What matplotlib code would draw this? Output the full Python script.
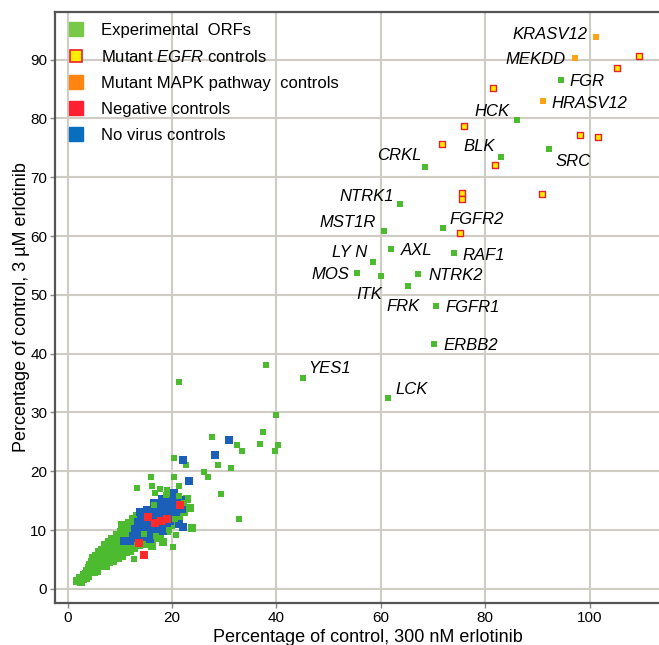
import matplotlib
matplotlib.use('Agg')
import matplotlib.pyplot as plt
from matplotlib.lines import Line2D
import numpy as np

plt.rcParams['font.family'] = ['Liberation Sans', 'DejaVu Sans']
plt.rcParams['mathtext.fontset'] = 'custom'
plt.rcParams['mathtext.rm'] = 'Liberation Sans'
plt.rcParams['mathtext.it'] = 'Liberation Sans:italic'

# %% Daten
# dichte Wolke der experimentellen ORFs
cloud_x = [1.8, 2.4, 2.6, 3.0, 3.2, 3.5, 3.8, 4.0, 4.2, 4.4, 4.6, 4.8, 4.9,
           5.1, 5.3, 5.5, 5.7, 5.9, 6.0, 6.2, 6.4, 6.6, 6.8, 7.0, 7.1,
           7.3, 7.5, 7.7, 7.9, 8.0, 8.2, 8.4, 8.6, 8.8, 9.0, 9.2, 9.4,
           9.6, 9.8, 10.0, 10.2, 10.4, 10.6, 10.8, 11.0, 11.2, 11.4, 11.6, 11.8,
           12.0, 12.2, 12.4, 12.6, 12.8, 13.0, 13.2, 13.4, 13.6, 13.8, 14.0, 14.2,
           14.5, 14.7, 14.9, 15.1, 15.3, 15.5, 15.7, 15.9, 16.1, 16.3, 16.5, 16.7, 16.9, 17.1, 17.3, 17.5,
           17.7, 17.9, 18.1, 18.3, 18.5, 18.7, 18.9, 19.1, 19.3, 19.5, 19.7, 19.9, 20.1, 20.4, 20.7, 21.0,
           21.4, 21.8, 22.3, 22.8, 23.5, 23.8,
           3.6, 5.0, 6.1, 6.9, 7.6, 8.3, 9.1, 9.9, 10.5, 11.3, 12.1, 12.9, 13.7, 14.4, 15.2, 16.2, 17.4,
           4.3, 5.6, 6.5, 7.4, 8.1, 8.9, 9.5, 10.3, 11.1, 11.9, 12.7]
cloud_y = [1.4, 1.8, 1.2, 1.6, 2.4, 1.9, 3.0, 2.2, 3.6, 2.9, 4.6, 3.4, 5.2,
           2.8, 4.1, 5.6, 3.5, 4.8, 6.2, 3.9, 5.3, 6.6, 4.4, 5.8, 7.4,
           3.9, 5.0, 6.4, 7.9, 4.6, 5.6, 7.0, 8.4, 4.7, 6.0, 7.5, 9.2,
           5.3, 6.6, 8.1, 9.6, 5.6, 7.1, 8.7, 10.4, 6.2, 7.6, 9.2, 11.2,
           6.5, 8.0, 9.8, 11.8, 7.0, 8.6, 10.4, 12.4, 7.4, 9.2, 11.0, 13.0,
           12.5, 7.6, 9.0, 11.0, 13.0, 8.4, 10.0, 12.0, 7.3, 9.2, 11.2, 13.6, 8.6, 10.4, 12.4, 14.2,
           9.4, 11.6, 13.2, 8.0, 10.6, 12.8, 14.8, 9.9, 11.8, 13.8, 15.6, 10.8, 12.6, 14.4, 11.4, 13.4,
           12.2, 14.2, 13.0, 15.3, 13.8, 10.3,
           2.6, 4.4, 5.0, 6.2, 7.2, 6.3, 8.3, 7.4, 10.8, 9.9, 10.9, 11.6, 10.2, 10.4, 11.8, 12.8, 12.0,
           4.0, 3.1, 4.6, 4.6, 7.6, 5.4, 7.0, 8.8, 9.0, 7.1, 9.4]

# ORFs, die zwischen den Kontrollen liegen
mix_x = [14.6, 17.0, 19.5, 20.6, 21.3, 16.6, 18.9, 22.4]
mix_y = [9.4, 9.0, 10.0, 11.9, 15.8, 14.2, 15.9, 14.6]

# einzelne experimentelle ORFs ohne Beschriftung
orf_x = [38.0, 21.4, 40.0, 37.5, 40.4, 36.9, 39.8, 27.6, 32.5, 33.5, 28.9, 31.3, 26.2, 26.9, 29.3, 32.9,
         20.4, 22.6, 20.4, 15.9, 13.3, 16.1, 17.7, 19.0, 16.8, 21.4, 23.0, 23.7, 20.8, 20.2, 12.7]
orf_y = [38.1, 35.2, 29.6, 26.6, 24.5, 24.7, 23.5, 25.8, 24.4, 23.5, 21.1, 20.5, 19.9, 19.1, 16.2, 11.9,
         22.2, 21.1, 19.0, 19.0, 17.2, 17.5, 17.0, 16.8, 16.3, 17.5, 15.2, 13.7, 9.1, 7.2, 5.0]

# beschriftete ORFs
gene_names = ['FGR', 'HCK', 'BLK', 'SRC', 'CRKL', 'NTRK1', 'MST1R', 'FGFR2', 'AXL', 'RAF1', 'LY N',
              'MOS', 'ITK', 'NTRK2', 'FRK', 'FGFR1', 'ERBB2', 'YES1', 'LCK']
gene_x = [94.5, 86.0, 83.0, 92.3, 68.5, 63.6, 60.6, 71.9, 62.0, 74.0, 58.5,
          55.5, 60.0, 67.2, 65.2, 70.5, 70.1, 45.1, 61.3]
gene_y = [86.5, 79.8, 73.5, 74.8, 71.7, 65.4, 60.8, 61.3, 57.8, 57.1, 55.6,
          53.8, 53.2, 53.5, 51.5, 48.1, 41.6, 35.9, 32.5]

# Mutant EGFR
egfr_x = [109.5, 105.3, 81.4, 75.9, 98.1, 101.5, 71.7, 81.8, 75.6, 75.6, 90.8, 75.2]
egfr_y = [90.6, 88.6, 85.2, 78.7, 77.2, 76.9, 75.6, 72.0, 67.3, 66.3, 67.1, 60.5]

# Mutant MAPK
mapk_names = ['KRASV12', 'MEKDD', 'HRASV12']
mapk_x = [101.2, 97.2, 91.0]
mapk_y = [93.9, 90.3, 83.0]

# Negativkontrollen
neg_x = [21.6, 19.1, 15.4, 13.6, 14.7, 16.8, 17.9]
neg_y = [14.3, 11.9, 12.3, 7.8, 5.8, 11.2, 11.6]

# ohne Virus
novir_x = [12.6, 13.0, 13.3, 13.5, 13.8, 14.0, 14.2, 14.5, 14.7, 15.0, 15.2, 15.4, 15.6, 15.8, 16.0, 16.2,
           16.4, 16.6, 16.8, 17.0, 17.2, 17.4, 17.6, 17.8, 18.0, 18.2, 18.4, 18.6, 18.8, 19.0, 19.2, 19.4,
           19.6, 19.8, 20.0, 20.2, 20.5, 20.8, 21.1, 21.4, 21.7, 22.0, 20.3, 18.0, 16.5, 14.8, 15.8, 13.8,
           30.9, 28.3, 22.2, 23.2, 22.2, 10.9, 14.3, 16.9, 12.0]
novir_y = [9.0, 10.2, 8.6, 11.4, 9.6, 12.2, 10.4, 8.9, 11.6, 9.8, 13.4, 10.8, 12.0, 9.2, 11.2, 13.0,
           10.2, 12.4, 9.6, 11.8, 13.8, 10.6, 12.6, 14.6, 11.2, 9.8, 13.2, 12.0, 14.0, 10.4, 12.8, 15.0,
           11.6, 13.6, 14.8, 12.2, 15.6, 13.0, 14.2, 11.0, 15.2, 13.6, 16.3, 15.3, 14.6, 12.9, 8.4, 13.0,
           25.3, 22.7, 21.9, 18.4, 10.5, 8.1, 13.0, 14.1, 8.2]

# Beschriftungs-Versatz in Pixeln (dx, dy, ha)
gene_off = {'FGR': (9, 0, 'left'), 'HCK': (-7, 10, 'right'), 'BLK': (-6, 12, 'right'),
            'SRC': (6, -11, 'left'), 'CRKL': (-4, 13, 'right'), 'NTRK1': (-6, 9, 'right'),
            'MST1R': (-8, 10, 'right'), 'FGFR2': (7, 10, 'left'), 'AXL': (10, 0, 'left'),
            'RAF1': (9, -1, 'left'), 'LY N': (-6, 11, 'right'), 'MOS': (-8, 0, 'right'),
            'ITK': (1, -17, 'right'), 'NTRK2': (10, 0, 'left'), 'FRK': (12, -19, 'right'),
            'FGFR1': (10, 0, 'left'), 'ERBB2': (10, 0, 'left'), 'YES1': (5, 11, 'left'),
            'LCK': (8, 10, 'left')}
mapk_off = {'KRASV12': (-8, 4, 'right'), 'MEKDD': (-9, 0, 'right'), 'HRASV12': (9, -1, 'left')}

# %% Farben
c_green = '#4cbb30'
c_orange = '#ffa214'
c_red = '#ff2a2a'
c_blue = '#1c5fb8'

# %% Plot
fig = plt.figure(figsize=(6.59, 6.45), dpi=100)
ax = fig.add_axes([55/659, 42/645, 625/659, 591/645])

ms = 27
ax.scatter(cloud_x, cloud_y, s=ms, marker='s', color=c_green, lw=0, zorder=3)
ax.scatter(orf_x, orf_y, s=24, marker='s', color=c_green, lw=0, zorder=3)
ax.scatter(novir_x, novir_y, s=ms, marker='s', color=c_blue, lw=0, zorder=4)
ax.scatter(mix_x, mix_y, s=24, marker='s', color=c_green, lw=0, zorder=4.5)
ax.scatter(neg_x, neg_y, s=ms, marker='s', color=c_red, lw=0, zorder=5)
ax.scatter(gene_x, gene_y, s=22, marker='s', color=c_green, lw=0, zorder=3)
ax.scatter(mapk_x, mapk_y, s=22, marker='s', color=c_orange, lw=0, zorder=5)
ax.scatter(egfr_x, egfr_y, s=20, marker='s', facecolor='#ffee00', edgecolor='#e8202a', lw=1.0, zorder=5)

for name, x, y in zip(gene_names, gene_x, gene_y):
    dx, dy, ha = gene_off[name]
    ax.annotate(name, (x, y), xytext=(dx, dy), textcoords='offset pixels', ha=ha, va='center_baseline',
                fontsize=12, style='italic', zorder=6)
for name, x, y in zip(mapk_names, mapk_x, mapk_y):
    dx, dy, ha = mapk_off[name]
    ax.annotate(name, (x, y), xytext=(dx, dy), textcoords='offset pixels', ha=ha, va='center_baseline',
                fontsize=12, style='italic', zorder=6)

ax.set_xlim(-2.4, 117.3)
ax.set_ylim(-2.4, 98.1)
ax.set_xticks(np.arange(0, 101, 20))
ax.set_yticks(np.arange(0, 91, 10))
ax.grid(True, color='#cfccc5', lw=1.5, zorder=0)
ax.set_axisbelow(True)
ax.tick_params(direction='out', length=3.5, width=1, color='#888888', pad=2, labelsize=11)
for lab in ax.get_xticklabels() + ax.get_yticklabels():
    lab.set_family(['Liberation Sans Narrow', 'Liberation Sans'])
for s in ['left', 'bottom', 'top']:
    ax.spines[s].set_color('#555555')
    ax.spines[s].set_linewidth(1.6)
ax.spines['right'].set_visible(False)

ax.set_xlabel('Percentage of control, 300 nM erlotinib', fontsize=13, labelpad=3)
ax.set_ylabel('Percentage of control, 3 µM erlotinib', fontsize=13, labelpad=0)

handles = [
    Line2D([], [], ls='', marker='s', ms=9.5, color='#78c84a'),
    Line2D([], [], ls='', marker='s', ms=8.8, markerfacecolor='#ffee00', markeredgecolor='#e8202a', mew=1.2),
    Line2D([], [], ls='', marker='s', ms=9.5, color='#ff8410'),
    Line2D([], [], ls='', marker='s', ms=9.5, color='#ff2030'),
    Line2D([], [], ls='', marker='s', ms=9.5, color='#0a6ec0'),
]
labels = ['Experimental  ORFs', r'Mutant $\mathit{EGFR}$ controls', 'Mutant MAPK pathway  controls',
          'Negative controls', 'No virus controls']
ax.legend(handles, labels, loc='upper left', bbox_to_anchor=(0.0, 1.0), frameon=False, fontsize=12,
          handletextpad=0.9, labelspacing=0.66, borderaxespad=0.24, handlelength=1.2)

plt.savefig('out.png', dpi=100)
